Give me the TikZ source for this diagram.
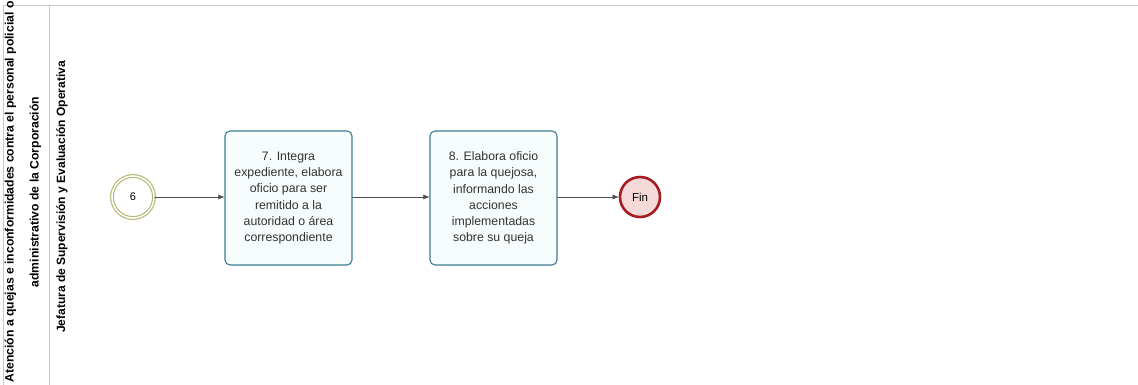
\documentclass[tikz,border=0pt]{standalone}
\usepackage{fontspec}
\setmainfont{Liberation Sans}
\usetikzlibrary{arrows.meta,positioning}
\definecolor{taskline}{HTML}{3E7C96}
\definecolor{taskfill}{HTML}{F7FCFD}
\definecolor{startline}{HTML}{B4B66E}
\definecolor{endline}{HTML}{A51C22}
\definecolor{endfill}{HTML}{F6D9D9}
\definecolor{laneline}{HTML}{C8C8C8}
\tikzset{task/.style={rectangle,rounded corners=5pt,draw=taskline,line width=1.1pt,fill=taskfill,minimum width=127pt,minimum height=134pt,align=center,inner sep=1pt,font=\fontsize{12.3}{16.2}\selectfont,text=black!80},startev/.style={circle,draw=startline,double=white,double distance=1.6pt,line width=1.1pt,fill=white,minimum size=42pt,inner sep=0pt,font=\fontsize{11}{12}\selectfont},endev/.style={circle,draw=endline,line width=2.6pt,fill=endfill,minimum size=40pt,inner sep=0pt,font=\fontsize{11.5}{12}\selectfont},flow/.style={-{Latex[length=6pt,width=5pt]},black!70,thin},lane/.style={laneline,line width=.8pt},every picture/.style={line cap=round}}
\begin{document}
\begin{tikzpicture}[x=1pt,y=-1pt]
\useasboundingbox[fill=white] (0,0) rectangle (1138,385);
% pool and lane frame
\draw[lane] (3,385)--(3,5)--(1138,5);
\draw[lane] (49,5)--(49,385);
\node[rotate=90,align=center,font=\bfseries\fontsize{12.2}{25}\selectfont] (pool) at (23,192) {Atención a quejas e inconformidades contra el personal policial o\\administrativo de la Corporación};
\node[rotate=90,font=\bfseries\fontsize{12}{14}\selectfont] (lane) at (62,197) {Jefatura de Supervisión y Evaluación Operativa};
% flow
\node[startev] (s6) at (133,197) {6};
\node[task] (t7) at (288.5,198) {7. Integra\\expediente, elabora\\oficio para ser\\remitido a la\\autoridad o área\\correspondiente};
\node[task] (t8) at (493.5,198) {8. Elabora oficio\\para la quejosa,\\informando las\\acciones\\implementadas\\sobre su queja};
\node[endev] (fin) at (640,197) {Fin};
\draw[flow] (s6)--(s6-|t7.west);
\draw[flow] (t7.east|-s6)--(t8.west|-s6);
\draw[flow] (t8.east|-s6)--(fin);
\end{tikzpicture}
\end{document}
